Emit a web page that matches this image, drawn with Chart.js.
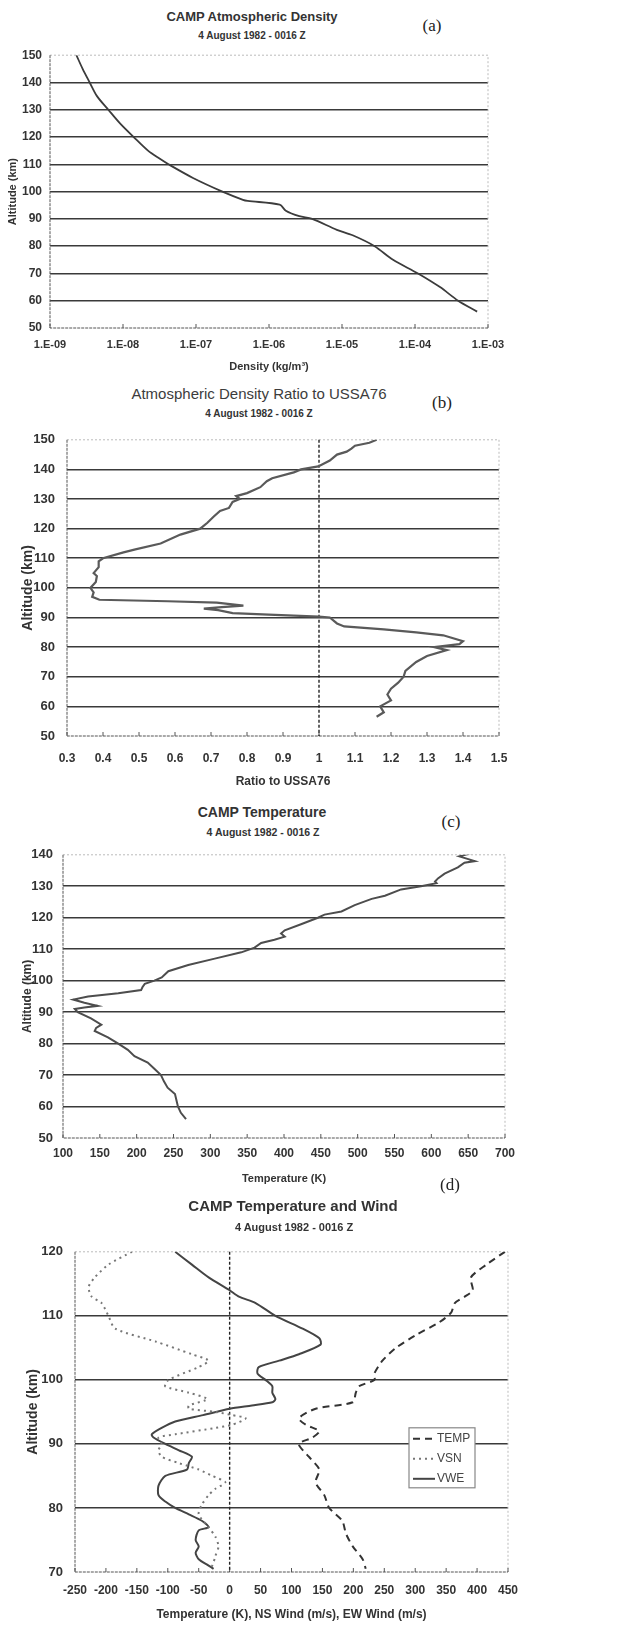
<!DOCTYPE html>
<html lang="en">
<head>
<meta charset="UTF-8">
<title>CAMP 4 August 1982 - 0016 Z</title>
<script src="https://cdn.jsdelivr.net/npm/chart.js"></script>
<style>
  body { margin: 0; background: #fff; font-family: "Liberation Sans", Arial, sans-serif; }
  #page { position: relative; width: 644px; height: 1633px; overflow: hidden; }
  canvas { position: absolute; left: 0; }
  .t { position: absolute; transform: translate(-50%, -50%); white-space: nowrap; color: #333; font-weight: bold; }
  .tag { position: absolute; transform: translate(-50%, -50%); font-family: "Liberation Serif", serif; font-size: 17px; color: #222; }
</style>
</head>
<body>
<div id="page">
  <!-- (a) -->
  <div class="t" style="left:252px;top:16px;font-size:13px">CAMP Atmospheric Density</div>
  <div class="t" style="left:252px;top:35px;font-size:10px">4 August 1982 - 0016 Z</div>
  <div class="tag" style="left:432px;top:26px">(a)</div>
  <canvas id="chartA" width="644" height="334" style="top:40px"></canvas>

  <!-- (b) -->
  <div class="t" style="left:259px;top:393px;font-size:15px;font-weight:normal;color:#3c3c3c">Atmospheric Density Ratio to USSA76</div>
  <div class="t" style="left:259px;top:413px;font-size:10px">4 August 1982 - 0016 Z</div>
  <div class="tag" style="left:442px;top:403px">(b)</div>
  <canvas id="chartB" width="644" height="369" style="top:420px"></canvas>

  <!-- (c) -->
  <div class="t" style="left:262px;top:812px;font-size:14px">CAMP Temperature</div>
  <div class="t" style="left:263px;top:832px;font-size:10.5px">4 August 1982 - 0016 Z</div>
  <div class="tag" style="left:451px;top:822px">(c)</div>
  <canvas id="chartC" width="644" height="349" style="top:837px"></canvas>

  <!-- (d) -->
  <div class="tag" style="left:450px;top:1185px">(d)</div>
  <div class="t" style="left:293px;top:1205px;font-size:15px">CAMP Temperature and Wind</div>
  <div class="t" style="left:294px;top:1227px;font-size:11px">4 August 1982 - 0016 Z</div>
  <canvas id="chartD" width="644" height="390" style="top:1232px"></canvas>
</div>

<script>
// ---- (a) density ----
const altA  = [150, 145, 140, 135, 130, 125, 120, 115, 112, 110, 105, 100, 97, 96.6, 95.2, 93, 91, 90, 86, 84, 80, 75, 70, 65, 60, 56];
const densA = [2.3e-9, 2.8e-9, 3.5e-9, 4.4e-9, 6.3e-9, 9.1e-9, 1.4e-8, 2.2e-8, 3.2e-8, 4.2e-8, 9.1e-8, 2.3e-7, 4.4e-7, 5.1e-7, 1.4e-6, 1.7e-6, 2.6e-6, 3.9e-6, 8.5e-6, 1.4e-5, 2.8e-5, 5.0e-5, 1.1e-4, 2.2e-4, 3.9e-4, 7.1e-4];
const densTicks  = [1e-9, 1e-8, 1e-7, 1e-6, 1e-5, 1e-4, 1e-3];
const densLabels = ['1.E-09', '1.E-08', '1.E-07', '1.E-06', '1.E-05', '1.E-04', '1.E-03'];
const altTicksA  = [50, 60, 70, 80, 90, 100, 110, 120, 130, 140, 150];

// ---- (b) ratio to USSA76 ----
const altB   = [150, 149, 148, 147, 146, 145, 143, 141, 140, 139, 137, 136, 134, 132, 131, 130, 129, 127, 126, 124, 122, 120, 118, 115, 113, 112, 110, 109, 107, 105, 104, 102, 100, 98.5, 97, 96, 95.5, 95, 94, 93.5, 93, 92.5, 91.5, 91, 90.3, 90, 88, 87, 86, 85, 84, 82, 81, 80, 79, 77, 75, 72, 70, 68, 66, 64, 62, 60, 58, 56.5];
const ratioB = [1.16, 1.14, 1.10, 1.09, 1.077, 1.05, 1.03, 0.998, 0.95, 0.93, 0.87, 0.855, 0.837, 0.80, 0.77, 0.78, 0.76, 0.75, 0.725, 0.707, 0.69, 0.67, 0.615, 0.56, 0.49, 0.457, 0.40, 0.388, 0.388, 0.374, 0.383, 0.38, 0.365, 0.374, 0.37, 0.39, 0.58, 0.716, 0.79, 0.73, 0.68, 0.72, 0.76, 0.86, 1.0, 1.03, 1.05, 1.07, 1.18, 1.27, 1.345, 1.40, 1.39, 1.32, 1.355, 1.30, 1.27, 1.24, 1.235, 1.22, 1.20, 1.19, 1.20, 1.17, 1.18, 1.16];
const ratioTicks  = [0.3, 0.4, 0.5, 0.6, 0.7, 0.8, 0.9, 1, 1.1, 1.2, 1.3, 1.4, 1.5];
const ratioLabels = ['0.3', '0.4', '0.5', '0.6', '0.7', '0.8', '0.9', '1', '1.1', '1.2', '1.3', '1.4', '1.5'];
const ratioRef = 1;

// ---- (c) temperature ----
const altC  = [141, 140.5, 139.5, 138, 137.5, 136, 134, 132.5, 131.5, 131, 130, 129, 127, 126, 124, 122, 121, 120, 118, 116, 115, 114, 113, 112, 110.5, 109, 107, 105, 103, 101, 100, 99, 98, 97, 96, 95, 94, 93, 92, 91.5, 91, 90, 88, 86, 85, 84, 82, 80, 78, 76, 74, 72, 70, 68, 66, 64, 62, 60, 58, 56];
const tempC = [641, 654, 638, 659, 645, 636, 618, 609, 605, 607, 586, 559, 537, 519, 496, 478, 455, 446, 424, 401, 396, 401, 387, 369, 360, 342, 306, 270, 243, 234, 224, 211, 208, 206, 175, 134, 114, 129, 147, 129, 116, 120, 138, 152, 145, 143, 161, 175, 188, 197, 215, 224, 233, 237, 242, 252, 254, 256, 260, 267];
const tempTicks = [100, 150, 200, 250, 300, 350, 400, 450, 500, 550, 600, 650, 700];
const altTicksC = [50, 60, 70, 80, 90, 100, 110, 120, 130, 140];

// ---- (d) temperature and wind ----
const altTemp = [120, 118, 116, 114, 113, 112, 110.5, 109, 107, 105, 103, 101, 100, 99, 98, 96.5, 95.5, 94, 93, 92, 91, 90, 88, 86, 84, 82, 80, 78, 76, 74, 72, 70.5];
const tempD   = [445, 415, 390, 393, 380, 364, 358, 339, 301, 269, 247, 234, 234, 209, 204, 199, 139, 112, 123, 145, 134, 112, 128, 145, 139, 153, 161, 182, 188, 199, 215, 220];
const altVsn  = [120, 118, 116, 114.5, 113, 112, 110, 108, 106, 104, 103, 102, 100, 99, 98, 97, 96, 95.5, 95, 94.5, 94, 93, 92.5, 91.5, 91, 90, 89, 88, 87, 86, 85, 84, 83, 82, 80.5, 79, 77, 75.5, 74, 72.5, 71, 70.5];
const vsn     = [-158, -196, -218, -228, -223, -207, -196, -185, -120, -61, -34, -50, -99, -104, -66, -36, -66, -66, -23, 4, 26, 4, -23, -88, -115, -110, -115, -110, -82, -50, -28, -7, -23, -34, -45, -50, -34, -23, -18, -23, -28, -34];
const altVwe  = [120, 118, 116, 114, 113, 112, 110, 108, 106.5, 105.5, 104, 103, 102, 101, 100, 99, 98, 97, 96.5, 96, 95.5, 94.5, 93.5, 92.5, 91.5, 91, 90, 89, 88, 87, 86, 85, 83.5, 82, 81, 80, 79, 78, 77, 76.5, 75, 74, 73, 72, 71, 70.5];
const vwe     = [-88, -61, -34, 0, 15, 42, 74, 118, 145, 147, 112, 80, 47, 45, 58, 69, 69, 74, 69, 36, 0, -43, -88, -110, -126, -123, -104, -82, -61, -66, -69, -104, -115, -115, -104, -88, -66, -45, -34, -50, -55, -50, -55, -50, -34, -26];
const windTicks = [-250, -200, -150, -100, -50, 0, 50, 100, 150, 200, 250, 300, 350, 400, 450];
const altTicksD = [70, 80, 90, 100, 110, 120];
const windRef = 0;

const FONT = '"Liberation Sans", Arial, sans-serif';
const INK = '#333';

const pts = (xs, ys) => xs.map((v, i) => ({ x: v, y: ys[i] }));

// frame, inward ticks and dotted reference line
Chart.register({
  id: 'frame',
  beforeDatasetsDraw(chart, args, opts) {
    const { ctx, chartArea: a, scales: { x } } = chart;
    ctx.save();
    ctx.lineWidth = 1;
    ctx.setLineDash([2, 2]);
    ctx.strokeStyle = '#bbb';
    ctx.beginPath();
    ctx.moveTo(a.left, a.top); ctx.lineTo(a.right, a.top); ctx.lineTo(a.right, a.bottom);
    ctx.stroke();
    ctx.strokeStyle = '#555';
    ctx.setLineDash([3, 1]);
    ctx.beginPath();
    ctx.moveTo(a.left, a.top); ctx.lineTo(a.left, a.bottom); ctx.lineTo(a.right, a.bottom);
    ctx.stroke();
    ctx.setLineDash([]);
    ctx.beginPath();
    x.ticks.forEach(t => {
      const px = x.getPixelForValue(t.value);
      ctx.moveTo(px, a.bottom); ctx.lineTo(px, a.bottom - 4);
    });
    ctx.stroke();
    if (opts.refX !== undefined) {
      const px = x.getPixelForValue(opts.refX);
      ctx.strokeStyle = '#222';
      ctx.lineWidth = 1.4;
      ctx.setLineDash([3, 2]);
      ctx.beginPath();
      ctx.moveTo(px, a.top); ctx.lineTo(px, a.bottom);
      ctx.stroke();
    }
    ctx.restore();
  }
});

const boxLegend = {
  id: 'boxLegend',
  afterDatasetsDraw(chart) {
    const { ctx, chartArea: a } = chart;
    const x0 = a.right - 99, y0 = a.top + 176, w = 66, h = 60;
    ctx.save();
    ctx.fillStyle = '#fff';
    ctx.fillRect(x0, y0, w, h);
    ctx.strokeStyle = '#888';
    ctx.lineWidth = 1.2;
    ctx.strokeRect(x0, y0, w, h);
    ctx.font = '12px ' + FONT;
    ctx.textBaseline = 'middle';
    chart.data.datasets.forEach((ds, i) => {
      const yy = y0 + 11 + i * 20;
      ctx.strokeStyle = ds.borderColor;
      ctx.lineWidth = ds.borderWidth;
      ctx.setLineDash(ds.borderDash || []);
      ctx.beginPath();
      ctx.moveTo(x0 + 4, yy); ctx.lineTo(x0 + 26, yy);
      ctx.stroke();
      ctx.setLineDash([]);
      ctx.fillStyle = '#444';
      ctx.fillText(ds.label, x0 + 28, yy);
    });
    ctx.restore();
  }
};

function yAxis(ticks, width, titleSize, tickSize, pad) {
  const lo = ticks[0], hi = ticks[ticks.length - 1];
  return {
    min: lo, max: hi,
    afterBuildTicks: s => { s.ticks = ticks.map(v => ({ value: v })); },
    afterFit: s => { s.width = width; },
    border: { display: false },
    grid: {
      drawTicks: false,
      lineWidth: 1.6,
      color: c => (c.tick && (c.tick.value === lo || c.tick.value === hi)) ? 'rgba(0,0,0,0)' : '#3a3a3a'
    },
    ticks: { padding: pad, color: INK, font: { family: FONT, size: tickSize, weight: 'bold' } },
    title: { display: true, text: 'Altitude (km)', padding: 0, color: INK, font: { family: FONT, size: titleSize, weight: 'bold' } }
  };
}

function xAxis(ticks, labels, height, title, titleSize, tickSize, pad, type) {
  return {
    type: type || 'linear',
    min: ticks[0], max: ticks[ticks.length - 1],
    afterBuildTicks: s => { s.ticks = ticks.map(v => ({ value: v })); },
    afterFit: s => { s.height = height; },
    border: { display: false },
    grid: { display: false, drawTicks: false },
    ticks: {
      padding: pad, maxRotation: 0, autoSkip: false, color: INK,
      font: { family: FONT, size: tickSize, weight: 'bold' },
      callback: (v, i) => labels ? labels[i] : String(v)
    },
    title: { display: true, text: title, padding: 0, color: INK, font: { family: FONT, size: titleSize, weight: 'bold' } }
  };
}

function baseOptions(pad, x, y, plugins) {
  return {
    responsive: false,
    animation: false,
    layout: { padding: pad },
    elements: { point: { radius: 0 } },
    plugins: Object.assign({ legend: { display: false }, tooltip: { enabled: false } }, plugins || {}),
    scales: { x: x, y: y }
  };
}

// (a)
new Chart(document.getElementById('chartA'), {
  type: 'scatter',
  data: { datasets: [{ data: pts(densA, altA), showLine: true, borderColor: '#3c3c3c', borderWidth: 1.8, tension: 0.3 }] },
  options: baseOptions(
    { left: 6, right: 156, top: 13, bottom: 0 },
    xAxis(densTicks, densLabels, 46, 'Density (kg/m³)', 11, 11, 10, 'logarithmic'),
    yAxis(altTicksA, 44, 11, 12, 8)
  )
});

// (b)
new Chart(document.getElementById('chartB'), {
  type: 'scatter',
  data: { datasets: [{ data: pts(ratioB, altB), showLine: true, borderColor: '#5a5a5a', borderWidth: 2.2 }] },
  options: baseOptions(
    { left: 20, right: 145, top: 10, bottom: 0 },
    xAxis(ratioTicks, ratioLabels, 53, 'Ratio to USSA76', 12, 12, 15),
    yAxis(altTicksA, 47, 14, 13, 12),
    { frame: { refX: ratioRef } }
  )
});

// (c)
new Chart(document.getElementById('chartC'), {
  type: 'scatter',
  data: { datasets: [{ data: pts(tempC, altC), showLine: true, borderColor: '#4d4d4d', borderWidth: 2 }] },
  options: baseOptions(
    { left: 20, right: 139, top: 10, bottom: 0 },
    xAxis(tempTicks, null, 48, 'Temperature (K)', 11, 12, 8),
    yAxis(altTicksC, 43, 12, 13, 10)
  )
});

// (d)
new Chart(document.getElementById('chartD'), {
  type: 'scatter',
  data: {
    datasets: [
      { label: 'TEMP', data: pts(tempD, altTemp), showLine: true, borderColor: '#333', borderWidth: 2, borderDash: [7, 5], tension: 0.25 },
      { label: 'VSN', data: pts(vsn, altVsn), showLine: true, borderColor: '#777', borderWidth: 2, borderDash: [2, 4], tension: 0.25 },
      { label: 'VWE', data: pts(vwe, altVwe), showLine: true, borderColor: '#444', borderWidth: 2, tension: 0.25 }
    ]
  },
  options: baseOptions(
    { left: 25, right: 136, top: 10, bottom: 0 },
    xAxis(windTicks, null, 50, 'Temperature (K), NS Wind (m/s), EW Wind (m/s)', 12, 12, 11),
    yAxis(altTicksD, 50, 14, 13, 12),
    { frame: { refX: windRef } }
  ),
  plugins: [boxLegend]
});
</script>
</body>
</html>
